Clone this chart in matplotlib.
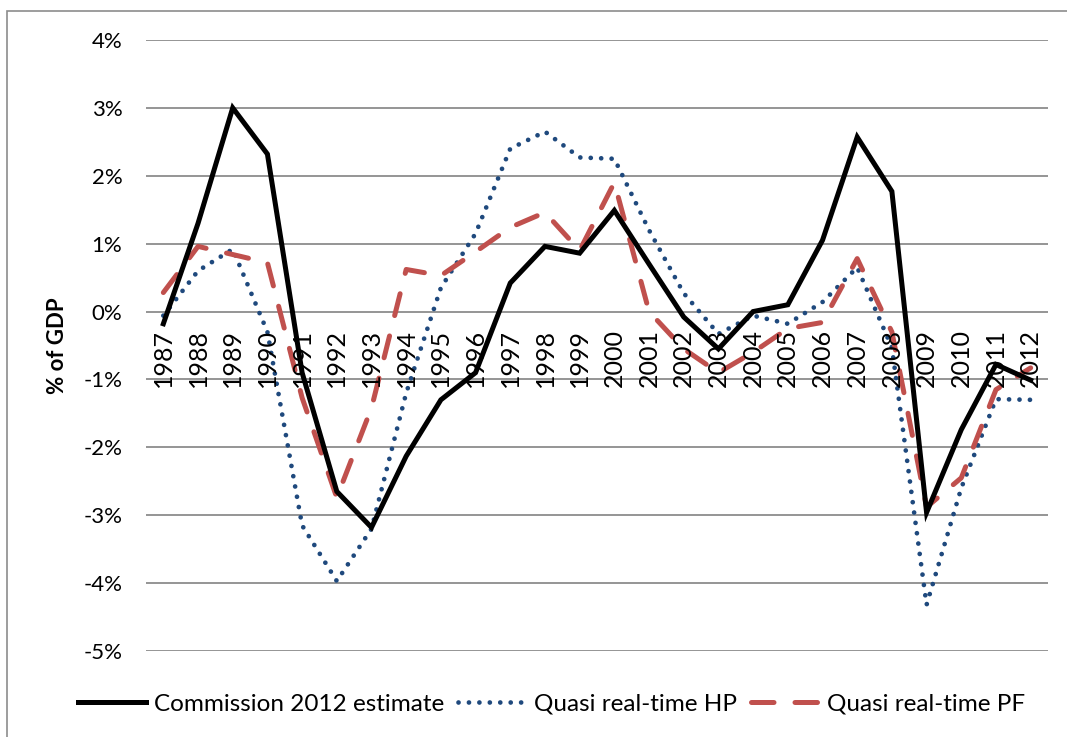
import numpy as np
import matplotlib
matplotlib.use("Agg")
import matplotlib.pyplot as plt
from matplotlib.patches import Rectangle

plt.rcParams['font.family'] = ['Lato', 'DejaVu Sans']

years = [str(y) for y in range(1987, 2013)]
commission = [-0.18, 1.3, 3.0, 2.32, -0.9, -2.65, -3.18, -2.13, -1.3, -0.9,
              0.42, 0.96, 0.86, 1.49, 0.7, -0.08, -0.55, 0.0, 0.1, 1.05,
              2.57, 1.77, -2.96, -1.74, -0.78, -1.01]
quasi_hp = [-0.06, 0.6, 0.92, -0.3, -3.15, -3.97, -3.2, -1.2, 0.35, 1.15,
            2.4, 2.65, 2.27, 2.25, 1.2, 0.27, -0.33, -0.06, -0.18, 0.14,
            0.65, -0.53, -4.32, -2.6, -1.29, -1.3]
quasi_pf = [0.28, 0.96, 0.84, 0.72, -1.27, -2.74, -1.42, 0.62, 0.53, 0.88,
            1.24, 1.46, 0.9, 1.9, 0.0, -0.55, -0.9, -0.6, -0.25, -0.16,
            0.78, -0.3, -2.88, -2.45, -1.15, -0.83]
yticks = np.arange(-5, 5, 1)

fig = plt.figure(figsize=(10.67, 7.37), dpi=100)
ax = fig.add_axes([146/1067, 1 - 651/737, 902/1067, 611/737])

x = np.arange(len(years))
ax.plot(x, commission, color='black', lw=3.6, solid_joinstyle='miter',
        label='Commission 2012 estimate', zorder=3)
ax.plot(x, quasi_hp, color='#1f497d', lw=3.4, linestyle=(0, (0.01, 2.2)),
        dash_capstyle='round', label='Quasi real-time HP', zorder=2)
ax.plot(x, quasi_pf, color='#c0504d', lw=3.6, linestyle=(0, (4.5, 4.2)),
        dash_capstyle='round', label='Quasi real-time PF', zorder=2)

ax.set_xlim(-0.5, len(years) - 0.5)
ax.set_ylim(-5, 4)
ax.set_yticks(yticks)
ax.set_yticklabels([f"{v}%" for v in yticks], fontsize=16)
ax.yaxis.grid(True, color='#8c8c8c', lw=1.3)
ax.set_axisbelow(True)
ax.tick_params(axis='y', length=0, pad=17)
ax.set_xticks([])
for s in ax.spines.values():
    s.set_visible(False)

# category labels hang below the zero line
for xi, lab in zip(x, years):
    ax.text(xi, -0.25, lab, rotation=90, ha='center', va='top', fontsize=18)

ax.set_ylabel('% of GDP', fontsize=16, fontweight='bold', labelpad=11)

fig.legend(loc='center', bbox_to_anchor=(0.5 + 18/1067, 1 - 704/737), ncol=3,
           frameon=False, fontsize=17.5, handlelength=2.8, handletextpad=0.3,
           columnspacing=0.6)

fig.patches.append(Rectangle((7/1067, -0.1), 1.2, 1 - 10.5/737 + 0.1,
                             transform=fig.transFigure, fill=False,
                             edgecolor='#8c8c8c', lw=1.2))

fig.savefig('out.png', dpi=100)
